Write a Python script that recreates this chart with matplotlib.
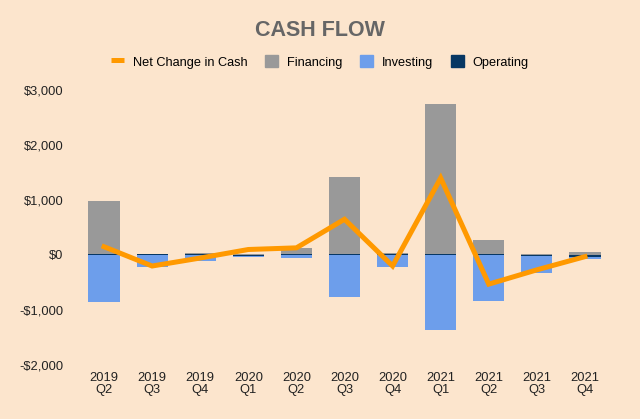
import numpy as np
import matplotlib
matplotlib.use("Agg")
import matplotlib.pyplot as plt
from matplotlib.patches import Patch
from matplotlib.lines import Line2D

plt.rcParams['font.family'] = ['Liberation Sans', 'DejaVu Sans']

# quarterly cash flow, $ millions
quarters = ['2019\nQ2', '2019\nQ3', '2019\nQ4', '2020\nQ1', '2020\nQ2', '2020\nQ3',
            '2020\nQ4', '2021\nQ1', '2021\nQ2', '2021\nQ3', '2021\nQ4']
operating = [10, 15, 15, -15, 10, 15, 20, 20, 15, -20, -30]
financing = [970, 10, 20, 10, 110, 1400, 10, 2730, 260, 10, 50]
investing = [-850, -220, -110, -20, -50, -770, -220, -1370, -830, -300, -50]
net_change = [150, -200, -55, 100, 130, 650, -200, 1400, -530, -270, -30]

BG = '#fce5cd'
C_NET = '#ff9900'
C_FIN = '#999999'
C_INV = '#6d9eeb'
C_OPS = '#073763'

fig = plt.figure(figsize=(6.4, 4.19), dpi=100, facecolor=BG)
ax = fig.add_axes([80 / 640, 1 - 365 / 419, 529 / 640, 275 / 419])
ax.set_facecolor(BG)

x = np.arange(len(quarters))
w = 0.65

# stack positives upward and negatives downward, operating nearest zero
pos_base = np.zeros(len(x))
neg_base = np.zeros(len(x))
for vals, col in [(operating, C_OPS), (financing, C_FIN), (investing, C_INV)]:
    v = np.array(vals, dtype=float)
    base = np.where(v >= 0, pos_base, neg_base)
    ax.bar(x, v, w, bottom=base, color=col, zorder=2)
    pos_base = pos_base + np.where(v >= 0, v, 0)
    neg_base = neg_base + np.where(v < 0, v, 0)

ax.plot(x, net_change, color=C_NET, lw=3.6, zorder=3, solid_joinstyle='miter')

ax.set_xlim(-0.5, len(x) - 0.5)
ax.set_ylim(-2000, 3000)
ax.set_yticks(range(-2000, 3001, 1000))
ax.set_yticklabels(['-$2,000', '-$1,000', '$0', '$1,000', '$2,000', '$3,000'])
ax.set_xticks(x)
ax.set_xticklabels(quarters, linespacing=1.05)
ax.tick_params(axis='both', length=0, labelsize=9.3, colors='#222222')
ax.tick_params(axis='y', pad=12)
ax.tick_params(axis='x', pad=5)
for s in ax.spines.values():
    s.set_visible(False)

fig.text(0.5, 1 - 30.5 / 419, 'CASH FLOW', ha='center', va='center',
         fontsize=15.5, fontweight='bold', color='#666666')

handles = [Line2D([0], [0], color=C_NET, lw=3.6, solid_capstyle='butt'),
           Patch(color=C_FIN), Patch(color=C_INV), Patch(color=C_OPS)]
labels = ['Net Change in Cash', 'Financing', 'Investing', 'Operating']
fig.legend(handles, labels, loc='center', bbox_to_anchor=(0.5, 1 - 62 / 419),
           ncol=4, frameon=False, fontsize=9.2, handlelength=1.0, handleheight=1.0,
           columnspacing=1.4, handletextpad=0.7)

fig.savefig('out.png', dpi=100, facecolor=BG)
